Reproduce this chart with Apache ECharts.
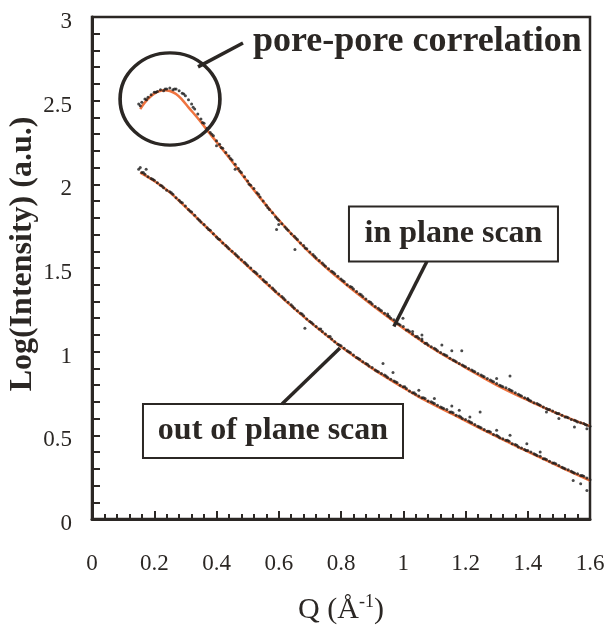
<!DOCTYPE html>
<html><head><meta charset="utf-8">
<script src="https://cdn.jsdelivr.net/npm/echarts@6/dist/echarts.min.js"></script>
<style>html,body{margin:0;padding:0;background:#fff}#c{width:608px;height:625px}</style>
</head><body><div id="c"></div>
<script>
// ---------- data ----------
const xTickLabels = ['0','0.2','0.4','0.6','0.8','1','1.2','1.4','1.6'];
const yTickLabels = ['0','0.5','1','1.5','2','2.5','3'];

// fitted curves (Q, log intensity)
const inPlaneFit = [[0.155,2.45],[0.17,2.49],[0.19,2.528],[0.21,2.552],[0.23,2.562],[0.25,2.558],[0.27,2.54],[0.29,2.505],[0.31,2.46],[0.34,2.395],[0.38,2.30],[0.44,2.16],[0.51,1.99],[0.58,1.83],[0.65,1.685],[0.72,1.555],[0.83,1.38],[0.97,1.18],[1.09,1.025],[1.20,0.905],[1.30,0.80],[1.40,0.71],[1.50,0.627],[1.60,0.555]];
const outPlaneFit = [[0.155,2.07],[0.20,2.02],[0.25,1.952],[0.30,1.865],[0.36,1.757],[0.44,1.615],[0.52,1.477],[0.60,1.34],[0.70,1.178],[0.80,1.03],[0.90,0.90],[1.00,0.785],[1.05,0.73],[1.16,0.625],[1.27,0.52],[1.38,0.42],[1.48,0.332],[1.60,0.23]];

// measured points
const inPlaneDots = [[0.15,2.48],[0.16,2.49],[0.17,2.51],[0.18,2.52],[0.19,2.535],[0.20,2.55],[0.21,2.555],[0.22,2.565],[0.23,2.56],[0.24,2.57],[0.25,2.575],[0.26,2.565],[0.27,2.57],[0.28,2.56],[0.29,2.545],[0.30,2.53],[0.31,2.505],[0.32,2.48],[0.33,2.45],[0.34,2.42],[0.35,2.39],[0.36,2.365],[0.37,2.335],[0.38,2.31],[0.39,2.29],[0.40,2.26],[0.41,2.24],[0.42,2.215],[0.43,2.19],[0.44,2.17],[0.45,2.145],[0.46,2.12],[0.47,2.095],[0.48,2.07],[0.49,2.045],[0.50,2.02],[0.51,1.995],[0.52,1.975],[0.53,1.95],[0.54,1.925],[0.55,1.90],[0.56,1.875],[0.57,1.85],[0.58,1.83],[0.59,1.805],[0.60,1.785],[0.61,1.765],[0.62,1.745],[0.63,1.725],[0.64,1.705],[0.65,1.69],[0.66,1.67],[0.67,1.65],[0.68,1.635],[0.69,1.615],[0.70,1.595],[0.71,1.58],[0.72,1.56],[0.73,1.545],[0.74,1.53],[0.75,1.51],[0.76,1.495],[0.77,1.48],[0.78,1.465],[0.79,1.45],[0.80,1.435],[0.81,1.42],[0.82,1.40],[0.83,1.39],[0.84,1.375],[0.85,1.36],[0.86,1.345],[0.87,1.33],[0.88,1.315],[0.89,1.30],[0.90,1.285],[0.91,1.27],[0.92,1.26],[0.93,1.245],[0.94,1.23],[0.95,1.215],[0.96,1.20],[0.97,1.19],[0.98,1.17],[0.99,1.16],[1.00,1.15],[1.01,1.13],[1.02,1.12],[1.03,1.105],[1.04,1.09],[1.05,1.08],[1.06,1.065],[1.07,1.05],[1.08,1.04],[1.09,1.03],[1.10,1.02],[1.11,1.005],[1.12,0.995],[1.13,0.985],[1.14,0.975],[1.15,0.96],[1.16,0.95],[1.17,0.94],[1.18,0.93],[1.19,0.92],[1.20,0.91],[1.21,0.90],[1.22,0.89],[1.23,0.88],[1.24,0.87],[1.25,0.86],[1.26,0.85],[1.27,0.84],[1.28,0.83],[1.29,0.82],[1.30,0.81],[1.31,0.80],[1.32,0.79],[1.33,0.785],[1.34,0.775],[1.35,0.765],[1.36,0.755],[1.37,0.745],[1.38,0.735],[1.39,0.725],[1.40,0.715],[1.41,0.705],[1.42,0.695],[1.43,0.69],[1.44,0.68],[1.45,0.67],[1.46,0.66],[1.47,0.655],[1.48,0.645],[1.49,0.635],[1.50,0.63],[1.51,0.62],[1.52,0.61],[1.53,0.605],[1.54,0.595],[1.55,0.59],[1.56,0.58],[1.57,0.575],[1.58,0.57],[1.59,0.56],[1.60,0.555],
[0.155,2.47],[0.175,2.505],[0.205,2.55],[0.235,2.57],[0.265,2.57],[0.295,2.54],[0.325,2.46],[0.355,2.37],[0.385,2.30],[0.415,2.22],[0.445,2.155],[0.475,2.08],[0.505,2.00],[0.535,1.94],[0.565,1.86],[0.595,1.795],[0.625,1.735],[0.655,1.68],[0.685,1.62],[0.715,1.57],[0.745,1.52],[0.775,1.475],[0.805,1.425],[0.835,1.385],[0.865,1.34],[0.895,1.295],[0.925,1.25],[0.955,1.21],[0.985,1.165],[1.015,1.13],[1.045,1.09],[1.075,1.05],[1.105,1.015],[1.135,0.98],[1.165,0.945],[1.195,0.915],[1.225,0.885],[1.255,0.855],[1.285,0.825],[1.315,0.795],[1.345,0.77],[1.375,0.74],[1.405,0.71],[1.435,0.685],[1.465,0.655],[1.495,0.63],[1.525,0.61],[1.555,0.585],[1.585,0.565],
[1.124,1.04],[1.156,1.005],[1.188,1.005],[1.343,0.855],[1.30,0.84],[1.40,0.72],[1.46,0.64],[1.50,0.60],[1.55,0.55],[1.59,0.54],[0.95,1.225],[0.60,1.76],[0.40,2.23],[0.46,2.09],[1.03,1.12],[1.06,1.075],[0.593,1.73],[0.652,1.61],[0.999,1.20],[1.06,1.10]];

const outPlaneDots = [[0.15,2.09],[0.16,2.07],[0.17,2.06],[0.18,2.045],[0.19,2.035],[0.20,2.025],[0.21,2.01],[0.22,1.995],[0.23,1.98],[0.24,1.965],[0.25,1.955],[0.26,1.94],[0.27,1.92],[0.28,1.905],[0.29,1.89],[0.30,1.87],[0.31,1.85],[0.32,1.835],[0.33,1.815],[0.34,1.795],[0.35,1.775],[0.36,1.76],[0.37,1.74],[0.38,1.725],[0.39,1.705],[0.40,1.685],[0.41,1.67],[0.42,1.65],[0.43,1.635],[0.44,1.615],[0.45,1.60],[0.46,1.585],[0.47,1.565],[0.48,1.55],[0.49,1.535],[0.50,1.515],[0.51,1.50],[0.52,1.48],[0.53,1.465],[0.54,1.45],[0.55,1.43],[0.56,1.415],[0.57,1.395],[0.58,1.38],[0.59,1.36],[0.60,1.345],[0.61,1.33],[0.62,1.31],[0.63,1.295],[0.64,1.28],[0.65,1.26],[0.66,1.245],[0.67,1.23],[0.68,1.215],[0.69,1.195],[0.70,1.18],[0.71,1.165],[0.72,1.15],[0.73,1.135],[0.74,1.12],[0.75,1.105],[0.76,1.09],[0.77,1.075],[0.78,1.06],[0.79,1.045],[0.80,1.035],[0.81,1.02],[0.82,1.005],[0.83,0.995],[0.84,0.98],[0.85,0.965],[0.86,0.955],[0.87,0.94],[0.88,0.93],[0.89,0.915],[0.90,0.905],[0.91,0.89],[0.92,0.88],[0.93,0.87],[0.94,0.86],[0.95,0.845],[0.96,0.835],[0.97,0.825],[0.98,0.815],[0.99,0.80],[1.00,0.79],[1.01,0.78],[1.02,0.765],[1.03,0.755],[1.04,0.745],[1.05,0.735],[1.06,0.725],[1.07,0.72],[1.08,0.705],[1.09,0.70],[1.10,0.69],[1.11,0.68],[1.12,0.67],[1.13,0.66],[1.14,0.655],[1.15,0.64],[1.16,0.635],[1.17,0.62],[1.18,0.615],[1.19,0.60],[1.20,0.595],[1.21,0.585],[1.22,0.575],[1.23,0.565],[1.24,0.555],[1.25,0.545],[1.26,0.535],[1.27,0.525],[1.28,0.52],[1.29,0.505],[1.30,0.50],[1.31,0.485],[1.32,0.48],[1.33,0.47],[1.34,0.465],[1.35,0.45],[1.36,0.445],[1.37,0.43],[1.38,0.425],[1.39,0.415],[1.40,0.41],[1.41,0.40],[1.42,0.39],[1.43,0.38],[1.44,0.375],[1.45,0.36],[1.46,0.355],[1.47,0.345],[1.48,0.335],[1.49,0.33],[1.50,0.32],[1.51,0.31],[1.52,0.30],[1.53,0.295],[1.54,0.285],[1.55,0.275],[1.56,0.27],[1.57,0.26],[1.58,0.255],[1.59,0.245],[1.60,0.235],
[0.155,2.10],[0.165,2.07],[0.195,2.03],[0.225,1.99],[0.255,1.95],[0.285,1.895],[0.315,1.84],[0.345,1.785],[0.375,1.73],[0.405,1.675],[0.435,1.625],[0.465,1.575],[0.495,1.525],[0.525,1.475],[0.555,1.42],[0.585,1.37],[0.615,1.32],[0.645,1.27],[0.675,1.225],[0.705,1.175],[0.735,1.135],[0.765,1.09],[0.795,1.04],[0.825,1.00],[0.855,0.96],[0.885,0.925],[0.915,0.885],[0.945,0.855],[0.975,0.82],[1.005,0.79],[1.035,0.755],[1.065,0.725],[1.095,0.695],[1.125,0.665],[1.155,0.64],[1.185,0.61],[1.215,0.58],[1.245,0.55],[1.275,0.525],[1.305,0.495],[1.335,0.47],[1.365,0.44],[1.395,0.41],[1.425,0.385],[1.455,0.36],[1.485,0.335],[1.515,0.305],[1.545,0.28],[1.575,0.26],
[0.174,2.09],[0.684,1.14],[0.935,0.93],[0.967,0.875],[1.156,0.675],[1.214,0.61],[1.247,0.64],[1.343,0.50],[1.397,0.45],[1.30,0.53],[1.44,0.40],[1.546,0.23],[1.57,0.21],[1.59,0.17],[1.05,0.77],[1.10,0.72],[1.18,0.65]];

// annotation anchors (data coordinates)
const circleCenter = [0.2506, 2.51];
const poreLeader = [[0.3406, 2.702], [0.4851, 2.845]];
const poreText = [0.517, 2.851];
const inBox = [[0.8256, 1.867], [1.4971, 1.539]];
const inLeader = [[1.0759, 1.539], [0.9699, 1.150]];
const outBox = [[0.1638, 0.687], [0.9992, 0.365]];
const outLeader = [[0.6104, 0.687], [0.7968, 1.022]];

// ---------- chart ----------
const FONT = "'Liberation Serif','Times New Roman',serif";
const INK = '#2b2724';
const ORANGE = '#ef7440';
const chart = echarts.init(document.getElementById('c'), null, {renderer: 'canvas'});

chart.setOption({
  animation: false,
  backgroundColor: '#fff',
  grid: {left: 92, right: 18, top: 17, bottom: 106, containLabel: false, outerBoundsMode: 'none',
    show: true, borderColor: INK, borderWidth: 2.5, backgroundColor: 'transparent'},
  xAxis: {
    type: 'value', min: 0, max: 1.6, interval: 0.2,
    axisLine: {show: true, lineStyle: {color: INK, width: 3}},
    axisTick: {show: true, inside: true, length: 8, lineStyle: {color: INK, width: 2}},
    minorTick: {show: true, splitNumber: 5, length: 5, lineStyle: {color: INK, width: 2}},
    splitLine: {show: false},
    axisLabel: {margin: 33, color: INK, fontFamily: FONT, fontSize: 23,
      formatter: v => xTickLabels[Math.round(v / 0.2)]},
    name: '{a|Q (Å}{s|-1}{a|)}', nameLocation: 'middle', nameGap: 74,
    nameTextStyle: {rich: {
      a: {fontFamily: FONT, fontSize: 30, color: INK, lineHeight: 34},
      s: {fontFamily: FONT, fontSize: 18, color: INK, verticalAlign: 'top', lineHeight: 20}
    }}
  },
  yAxis: {
    type: 'value', min: 0, max: 3, interval: 0.5,
    axisLine: {show: true, lineStyle: {color: INK, width: 3}},
    axisTick: {show: true, inside: true, length: 8, lineStyle: {color: INK, width: 2}},
    minorTick: {show: true, splitNumber: 5, length: 8, lineStyle: {color: INK, width: 2}},
    splitLine: {show: false},
    axisLabel: {margin: 20, color: INK, fontFamily: FONT, fontSize: 23, verticalAlign: 'top', lineHeight: 10,
      formatter: v => yTickLabels[Math.round(v / 0.5)]},
    name: 'Log(Intensity) (a.u.)', nameLocation: 'middle', nameGap: 53, nameMoveOverlap: false,
    nameTextStyle: {fontFamily: FONT, fontSize: 32, fontWeight: 'bold', color: INK, padding: [0, 0, 0, 28]}
  },
  series: [
    {type: 'line', data: inPlaneFit, smooth: 0.4, showSymbol: false, lineStyle: {color: ORANGE, width: 2.5}, z: 2},
    {type: 'line', data: outPlaneFit, smooth: 0.4, showSymbol: false, lineStyle: {color: ORANGE, width: 2.5}, z: 2},
    {type: 'scatter', data: inPlaneDots, symbol: 'circle', symbolSize: 3, itemStyle: {color: '#1c1c1c'}, z: 3},
    {type: 'scatter', data: outPlaneDots, symbol: 'circle', symbolSize: 3, itemStyle: {color: '#1c1c1c'}, z: 3}
  ]
});

function px(p) { return chart.convertToPixel({gridIndex: 0}, p); }
function boxRect(b) {
  const a = px(b[0]), c = px(b[1]);
  return {x: a[0], y: a[1], width: c[0] - a[0], height: c[1] - a[1]};
}
const cc = px(circleCenter);
const pl0 = px(poreLeader[0]), pl1 = px(poreLeader[1]);
const pt = px(poreText);
const ib = boxRect(inBox), ob = boxRect(outBox);
const il0 = px(inLeader[0]), il1 = px(inLeader[1]);
const ol0 = px(outLeader[0]), ol1 = px(outLeader[1]);
const labelFont = {fontFamily: FONT, fontSize: 32, fontWeight: 'bold', fill: INK};

chart.setOption({
  graphic: [
    {type: 'circle', x: cc[0], y: cc[1], scaleX: 1.04, scaleY: 0.96, shape: {cx: 0, cy: 0, r: 48},
      style: {fill: 'none', stroke: INK, lineWidth: 3.5}, z: 10},
    {type: 'line', shape: {x1: pl0[0], y1: pl0[1], x2: pl1[0], y2: pl1[1]}, style: {stroke: INK, lineWidth: 3.5}, z: 10},
    {type: 'text', x: pt[0], y: pt[1], style: Object.assign({text: 'pore-pore correlation', textAlign: 'left', textVerticalAlign: 'middle'}, labelFont, {fontSize: 36}), z: 10},
    {type: 'rect', shape: ib, style: {fill: '#fff', stroke: INK, lineWidth: 2}, z: 10},
    {type: 'text', x: ib.x + ib.width / 2, y: ib.y + ib.height / 2, style: Object.assign({text: 'in plane scan', textAlign: 'center', textVerticalAlign: 'middle'}, labelFont), z: 11},
    {type: 'line', shape: {x1: il0[0], y1: il0[1], x2: il1[0], y2: il1[1]}, style: {stroke: INK, lineWidth: 3.5}, z: 10},
    {type: 'rect', shape: ob, style: {fill: '#fff', stroke: INK, lineWidth: 2}, z: 10},
    {type: 'text', x: ob.x + ob.width / 2, y: ob.y + ob.height / 2, style: Object.assign({text: 'out of plane scan', textAlign: 'center', textVerticalAlign: 'middle'}, labelFont), z: 11},
    {type: 'line', shape: {x1: ol0[0], y1: ol0[1], x2: ol1[0], y2: ol1[1]}, style: {stroke: INK, lineWidth: 3.5}, z: 10}
  ]
});
</script></body></html>
